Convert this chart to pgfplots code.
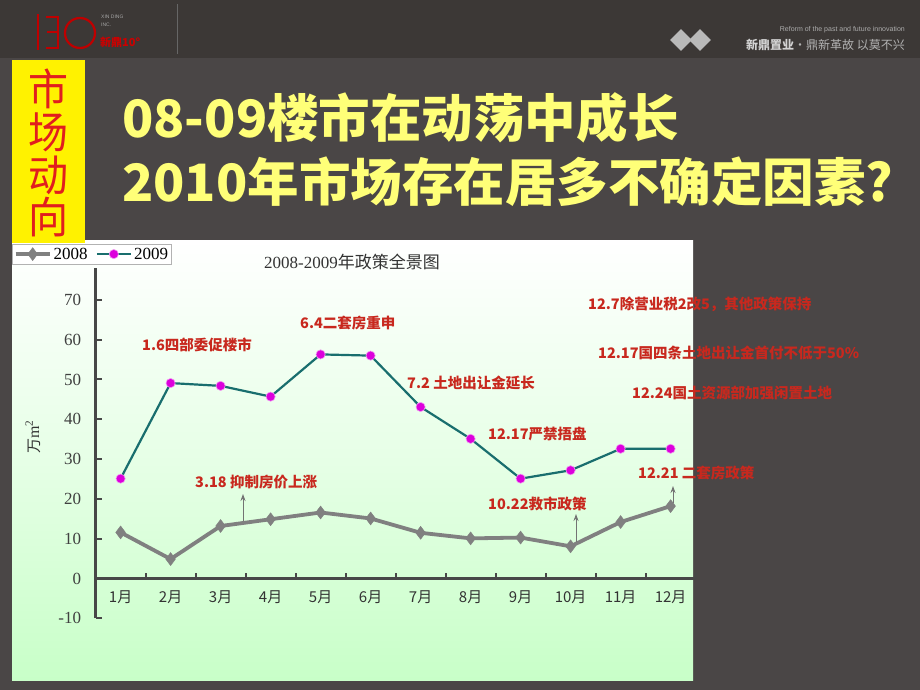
\documentclass[border=0pt]{standalone}
\usepackage{pgfplots}
\pgfplotsset{compat=1.18}
\usepackage{fontspec}
\setmainfont{Liberation Serif}
\newfontfamily\cjk{Noto Sans CJK SC}
\newfontfamily\lsans{Liberation Sans}
\usetikzlibrary{shapes.geometric,arrows.meta}
\definecolor{bg}{RGB}{74,70,70}
\definecolor{hdr}{RGB}{60,56,54}
\definecolor{ann}{RGB}{200,40,30}
\definecolor{teal2}{RGB}{25,110,110}
\definecolor{mag}{RGB}{220,0,220}
\definecolor{gr}{RGB}{128,128,128}
\definecolor{ttl}{RGB}{255,255,120}
\definecolor{pgreen}{RGB}{200,255,200}
\definecolor{vred}{RGB}{225,30,30}
\begin{document}
\begin{tikzpicture}[x=1pt,y=-1pt]
% backgrounds
\fill[bg] (0,0) rectangle (920,690);
\fill[hdr] (0,0) rectangle (920,58);
\draw[black!60,line width=0.6pt] (177,4) -- (177,54);
% logo
\draw[red!75!black,line width=2.2pt] (38,14) -- (38,50);
\draw[red!75!black,line width=2.2pt] (46,17) -- (58,17) -- (58,48) -- (46,48);
\draw[red!75!black,line width=1.6pt] (47,32) -- (57,32);
\draw[red!75!black,line width=2.2pt] (80,33) ellipse (15pt and 15pt);
\node[anchor=west,text=gray!70,inner sep=0] at (101,17) {\lsans\fontsize{5}{5}\selectfont XIN DING};
\node[anchor=west,text=gray!70,inner sep=0] at (101,25) {\lsans\fontsize{5}{5}\selectfont INC.};
\node[anchor=west,text=red!80!black,inner sep=0] at (100,42) {\cjk\bfseries\fontsize{11}{11}\selectfont 新鼎10°};
% right header
\node[diamond,fill=gray!55,minimum size=22pt,inner sep=0] at (681,40) {};
\node[diamond,fill=gray!55,minimum size=22pt,inner sep=0] at (700,40) {};
\node[anchor=east,text=gray!65,inner sep=0] at (905,30) {\lsans\fontsize{7}{7}\selectfont Reform of the past and future innovation};
\node[anchor=east,inner sep=0] at (905,45) {\cjk\fontsize{12}{12}\selectfont \textcolor{gray!35}{\bfseries 新鼎置业}\textcolor{gray!60}{·鼎新革故 以莫不兴}};
% yellow band + vertical text
\fill[yellow] (12,60) rectangle (85,243);
\node[text=vred,yscale=1.08] at (48,89) {\cjk\fontsize{40}{40}\selectfont 市};
\node[text=vred,yscale=1.08] at (48,132) {\cjk\fontsize{40}{40}\selectfont 场};
\node[text=vred,yscale=1.08] at (48,175) {\cjk\fontsize{40}{40}\selectfont 动};
\node[text=vred,yscale=1.08] at (48,217) {\cjk\fontsize{40}{40}\selectfont 向};
% title
\node[anchor=west,text=ttl,inner sep=0] at (122,118) {\cjk\bfseries\fontsize{51.5}{51.5}\selectfont 08-09楼市在动荡中成长};
\node[anchor=west,text=ttl,inner sep=0] at (122,182) {\cjk\bfseries\fontsize{51.5}{51.5}\selectfont 2010年市场存在居多不确定因素?};
% panel
\shade[top color=white,bottom color=pgreen,middle color=pgreen!45] (12,240) rectangle (693,680);
\fill[yellow] (12,240) rectangle (85,243);
% chart title
\node[text=black!80] at (352,262) {\fontsize{17}{17}\selectfont 2008-2009{\cjk 年政策全景图}};
% y label
\node[rotate=90,text=black!80] at (33,437) {{\cjk\fontsize{15}{15}\selectfont 万}\fontsize{16}{16}\selectfont m\textsuperscript{2}};
\begin{axis}[
  at={(95.6pt,-618.4pt)}, anchor=south west,
  scale only axis, width=600pt, height=350.4pt,
  xmin=0.5, xmax=12.5, ymin=-10, ymax=78,
  axis x line=middle, axis y line=left,
  axis line style={-, line width=2.6pt, color=black!72},
  hide obscured x ticks=false, hide obscured y ticks=false,
  xtick={1,...,12},
  xticklabels={1月,2月,3月,4月,5月,6月,7月,8月,9月,10月,11月,12月},
  major x tick style={draw=none},
  minor xtick={1.5,2.5,...,12.5},
  ytick={-10,0,10,...,70},
  /pgf/number format/assume math mode=true,
  tick align=inside,
  tick style={line width=2pt, color=black!72},
  major tick length=6pt, minor tick length=6pt,
  xticklabel style={font=\cjk\fontsize{15}{15}\selectfont, text=black!80, yshift=-9pt},
  yticklabel style={font=\fontsize{17}{17}\selectfont, text=black!75, xshift=-11pt},
  legend style={at={(-0.1393,1.0685)}, anchor=north west, legend columns=2,
    draw=gray!60, fill=white, font=\fontsize{17}{17}\selectfont, inner sep=1.5pt,
    /tikz/every even column/.append style={column sep=6pt}},
  legend image code/.code={\draw[mark repeat=2,mark phase=2,#1] plot coordinates {(0cm,0cm) (0.6cm,0cm) (1.2cm,0cm)};},
  clip=false,
]
\addplot[gr, line width=3.8pt, mark=diamond*, mark size=6.5pt,
  mark options={fill=gr, draw=gr, line width=0.4pt}]
  coordinates {(1,11.6) (2,4.9) (3,13.2) (4,14.9) (5,16.6) (6,15.1) (7,11.5) (8,10.1) (9,10.3) (10,8.1) (11,14.2) (12,18.2)};
\addlegendentry{2008}
\addplot[teal2, line width=2.2pt, mark=*, mark size=4.6pt,
  mark options={fill=mag, draw=mag!40, line width=0.6pt}]
  coordinates {(1,25.1) (2,49.1) (3,48.4) (4,45.7) (5,56.3) (6,56.0) (7,43.1) (8,35.1) (9,25.1) (10,27.2) (11,32.6) (12,32.6)};
\addlegendentry{2009}
\end{axis}
% annotations
\tikzset{annot/.style={anchor=west,text=ann,inner sep=0,font=\cjk\bfseries\fontsize{14.5}{14.5}\selectfont}}
\node[annot] at (142,345) {1.6四部委促楼市};
\node[annot] at (300,323) {6.4二套房重申};
\node[annot] at (195,482) {3.18 抑制房价上涨};
\node[annot] at (407,383) {7.2 土地出让金延长};
\node[annot] at (488,434) {12.17严禁捂盘};
\node[annot] at (488,504) {10.22救市政策};
\node[annot] at (638,473) {12.21 二套房政策};
\node[annot] at (588,304) {12.7除营业税2改5，其他政策保持};
\node[annot] at (598,353) {12.17国四条土地出让金首付不低于50\%};
\node[annot] at (632,393) {12.24国土资源部加强闲置土地};
\draw[-{Stealth[length=7pt,width=5pt]}, black!55, line width=0.9pt] (243,521) -- (243,494);
\draw[-{Stealth[length=7pt,width=5pt]}, black!55, line width=0.9pt] (576,542) -- (576,514);
\draw[-{Stealth[length=7pt,width=5pt]}, black!55, line width=0.9pt] (673,503) -- (673,486);
\end{tikzpicture}
\end{document}
